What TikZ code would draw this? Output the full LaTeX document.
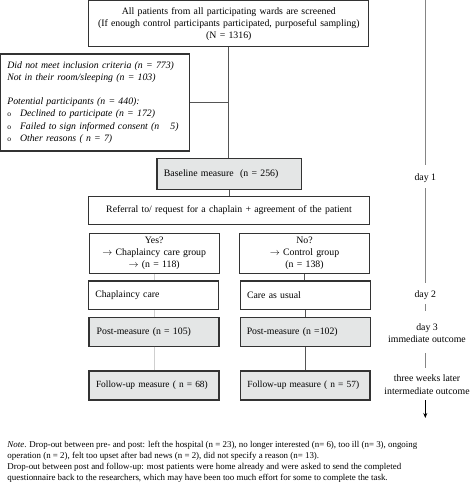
\documentclass[tikz,border=0pt]{standalone}
\usepackage{fontspec}
\setmainfont{Liberation Serif}
\usetikzlibrary{arrows.meta}
\definecolor{bordc}{HTML}{333333}
\definecolor{fillg}{HTML}{E4E6E6}
\definecolor{lightln}{HTML}{CFCFCF}
\definecolor{darkln}{HTML}{555555}
\definecolor{tlc}{HTML}{858585}
\newcommand{\bx}{\fontsize{9.8}{12.1}\selectfont}
\newcommand{\bul}{\makebox[12.7pt][l]{\upshape\fontsize{7.5}{8}\selectfont o}}
\begin{document}
\begin{tikzpicture}[x=1pt,y=-1pt,
  box/.style={draw=bordc,line width=1.1pt,fill=white,inner ysep=0pt,font=\bx},
  gbox/.style={box,fill=fillg},
  conn/.style={draw=darkln,line width=0.9pt},
  lconn/.style={draw=lightln,line width=0.9pt},
  tl/.style={draw=tlc,line width=0.9pt},
  tlab/.style={font=\bx,align=center,inner sep=0pt},
  notet/.style={font=\fontsize{8.9}{11}\selectfont,anchor=base west,inner sep=0pt}]
\useasboundingbox (0,0) rectangle (474,483);

% main column
\node[box,text width=266pt,inner xsep=7pt,minimum height=46pt,align=center] (top) at (228.8,23.7)
  {All patients from all participating wards are screened\\(If enough control participants participated, purposeful sampling)\\(N = 1316)};
\node[box,text width=176pt,inner xsep=6.6pt,minimum height=97pt,align=left,font=\bx\itshape] (excl) at (95.3,102.5)
  {Did not meet inclusion criteria (n = 773)\\Not in their room/sleeping (n = 103)\\[12.1pt]
   Potential participants (n = 440):\\
   \bul Declined to participate (n = 172)\\
   \bul Failed to sign informed consent (n\hspace{11pt}5)\\
   \bul Other reasons ( n = 7)};
\node[gbox,text width=130.7pt,inner xsep=7pt,minimum height=30.6pt,align=left] (base) at (229.3,174)
  {Baseline measure\ \ (n = 256)};
\node[box,text width=266.6pt,inner xsep=7pt,minimum height=28.3pt,align=center] (ref) at (229,210.2)
  {Referral to/ request for a chaplain + agreement of the patient};

% two groups
\node[box,text width=115.7pt,inner xsep=7pt,minimum height=40pt,align=center,font=\fontsize{9.8}{12.4}\selectfont] (yes) at (154.2,253.3)
  {Yes?\\$\rightarrow$ Chaplaincy care group\\$\rightarrow$ (n = 118)};
\node[box,text width=115.6pt,inner xsep=7pt,minimum height=40pt,align=center,font=\fontsize{9.8}{12.4}\selectfont] (no) at (304.5,253.3)
  {No?\\$\rightarrow$ Control group\\(n = 138)};
\node[box,text width=116.4pt,inner xsep=6.6pt,minimum height=28.7pt,align=left] (chap) at (153.5,295.3)
  {Chaplaincy care};
\node[box,text width=116.3pt,inner xsep=6.7pt,minimum height=28.7pt,align=left] (care) at (305.2,295.3)
  {Care as usual};
\node[gbox,text width=114.6pt,inner xsep=7.7pt,minimum height=28.7pt,align=left] (postL) at (154,331.7)
  {Post-measure (n = 105)};
\node[gbox,text width=116.9pt,inner xsep=6.4pt,minimum height=28.7pt,align=left] (postR) at (305.2,331.7)
  {Post-measure (n =102)};
\node[gbox,text width=116pt,inner xsep=7pt,minimum height=29pt,align=left,font=\fontsize{9.4}{12}\selectfont] (folL) at (154,385.5)
  {\mbox{Follow-up measure ( n = 68)}};
\node[gbox,line width=1.5pt,text width=115.7pt,inner xsep=7pt,minimum height=29pt,align=left,font=\fontsize{9.4}{12}\selectfont] (folR) at (305.2,385.5)
  {\mbox{Follow-up measure ( n = 57)}};

% connectors
\draw[conn] (top.south) -- (top.south |- base.north);
\draw[conn] (excl.east) -- (excl.east -| top.south);
\draw[conn] (base.south) -- (base.south |- ref.north);
\draw[lconn] (yes.south) -- (yes.south |- chap.north);
\draw[lconn] (postL.north |- chap.south) -- (postL.north);
\draw[lconn] (postL.south) -- (folL.north);
\draw[conn] (no.south) -- (no.south |- care.north);
\draw[conn] (care.south) -- (care.south |- postR.north);
\draw[conn] (postR.south) -- (folR.north);

% timeline
\coordinate (t0) at (425.3,0);
\coordinate (t1) at (425.3,165);
\node[tlab] (d1) at (425.3,178) {day 1};
\coordinate (t2) at (425.3,188);
\coordinate (t3) at (425.3,283);
\node[tlab] (d2) at (425.3,295) {day 2};
\coordinate (t4) at (425.3,304);
\coordinate (t5) at (425.3,311);
\node[tlab] (d3) at (427,332.7) {day 3\\immediate outcome};
\coordinate (t6) at (425.3,353);
\coordinate (t7) at (425.3,368);
\node[tlab,font=\fontsize{9.8}{12.8}\selectfont] (d4) at (427,385) {three weeks later\\intermediate outcome};
\coordinate (t8) at (425.3,400);
\coordinate (t9) at (425.3,418);
\draw[tl] (t0) -- (t1);
\draw[tl] (t2) -- (t3);
\draw[tl] (t4) -- (t5);
\draw[tl] (t6) -- (t7);
\draw[draw=black,line width=0.9pt,-{Stealth[length=5pt,width=4pt]}] (t8) -- (t9);

% note
\node[notet] (n1) at (7.3,447.3) {\textit{Note}. Drop-out between pre- and post: left the hospital (n = 23), no longer interested (n= 6), too ill (n= 3), ongoing};
\node[notet] (n2) at (7.3,458.7) {operation (n = 2), felt too upset after bad news (n = 2), did not specify a reason (n= 13).};
\node[notet] (n3) at (7.3,469.7) {Drop-out between post and follow-up: most patients were home already and were asked to send the completed};
\node[notet] (n4) at (7.3,480.7) {questionnaire back to the researchers, which may have been too much effort for some to complete the task.};
\end{tikzpicture}
\end{document}
